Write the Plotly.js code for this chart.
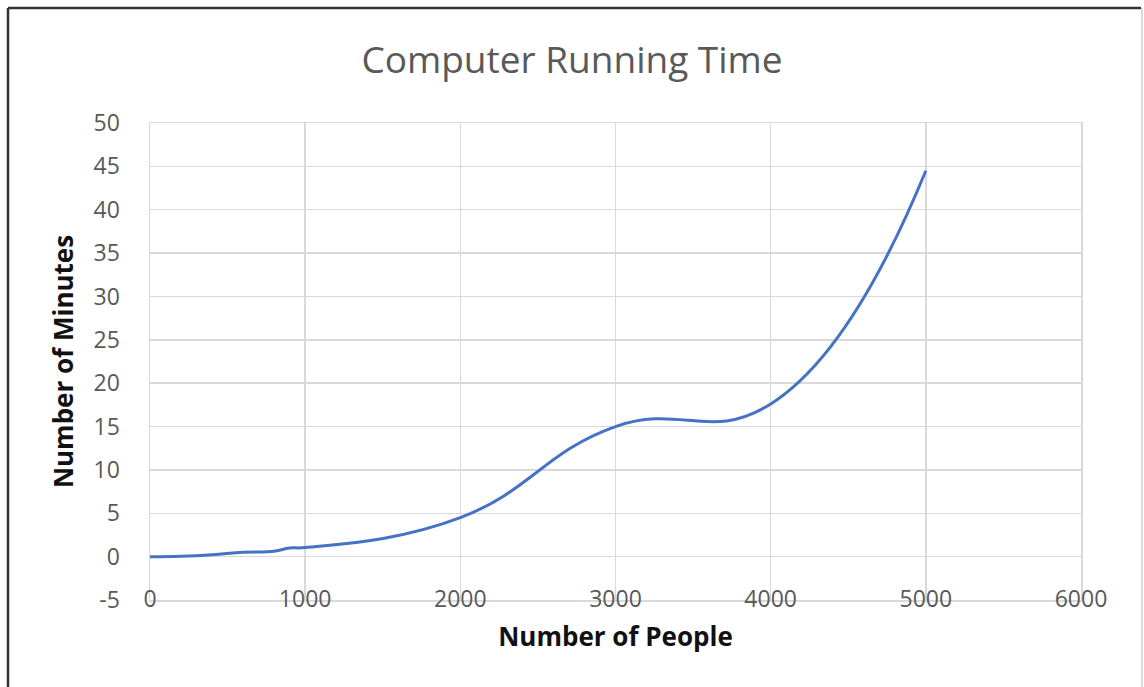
<!DOCTYPE html>
<html>
<head>
<meta charset="utf-8">
<script src="https://cdn.plot.ly/plotly-3.0.1.min.js"></script>
<style>
  html, body { margin: 0; padding: 0; background: #ffffff; }
  #chart { width: 1144px; height: 687px; }
</style>
</head>
<body>
<div id="chart"></div>
<script>
// Data
const people = [0, 200, 400, 600, 800, 900, 1000, 2000, 3000, 4000, 5000];
const minutes = [0, 0.05, 0.22, 0.5, 0.62, 1.0, 1.05, 4.5, 15, 17.6, 44.5];

const xTicks = [0, 1000, 2000, 3000, 4000, 5000, 6000];
const yTicks = [-5, 0, 5, 10, 15, 20, 25, 30, 35, 40, 45, 50];

const chartTitle = 'Computer Running Time';
const xTitle = 'Number of People';
const yTitle = 'Number of Minutes';

// Layout geometry (pixels)
const W = 1144, H = 687;
const mL = 150, mR = 63, mT = 123, mB = 87;
const pw = W - mL - mR, ph = H - mT - mB;
const px = v => (v - mL) / pw;
const py = v => (H - mB - v) / ph;

const trace = {
  x: people,
  y: minutes,
  type: 'scatter',
  mode: 'lines',
  line: { color: '#4472C4', width: 3, shape: 'spline', smoothing: 1.3 },
  hoverinfo: 'x+y',
  showlegend: false
};

const tickFont = { family: 'Open Sans, sans-serif', size: 23, color: '#595959' };

const layout = {
  width: W,
  height: H,
  paper_bgcolor: '#ffffff',
  plot_bgcolor: '#ffffff',
  margin: { l: mL, r: mR, t: mT, b: mB, pad: 0 },
  title: {
    text: chartTitle,
    font: { family: 'Open Sans, sans-serif', size: 37, color: '#595959' },
    x: 0.5, xref: 'container', xanchor: 'center',
    y: 1 - 60 / H, yref: 'container', yanchor: 'middle'
  },
  xaxis: {
    range: [0, 6000],
    tickvals: xTicks,
    ticktext: xTicks.map(String),
    showgrid: true,
    gridcolor: '#d9d9d9',
    gridwidth: 1.5,
    zeroline: false,
    showline: true,
    mirror: true,
    linecolor: '#d9d9d9',
    linewidth: 1.5,
    ticks: '',
    tickfont: tickFont,
    ticklabelstandoff: -22,
    automargin: false,
    title: {
      text: '<b>' + xTitle + '</b>',
      font: { family: 'Open Sans, sans-serif', size: 26, color: '#111111' },
      standoff: 14
    }
  },
  yaxis: {
    range: [-5, 50],
    tickvals: yTicks,
    ticktext: yTicks.map(String),
    showgrid: true,
    gridcolor: '#d9d9d9',
    gridwidth: 1.5,
    zeroline: false,
    showline: true,
    mirror: true,
    linecolor: '#d9d9d9',
    linewidth: 1.5,
    ticks: '',
    tickfont: tickFont,
    ticklabelstandoff: 24,
    automargin: false,
    title: {
      text: '<b>' + yTitle + '</b>',
      font: { family: 'Open Sans, sans-serif', size: 26, color: '#111111' },
      standoff: 12
    }
  },
  shapes: [
    // outer chart frame
    { type: 'line', xref: 'paper', yref: 'paper', x0: px(8), x1: px(1141), y0: py(8), y1: py(8),
      line: { color: '#333333', width: 2.5 } },
    { type: 'line', xref: 'paper', yref: 'paper', x0: px(8), x1: px(8), y0: py(8), y1: py(700),
      line: { color: '#333333', width: 2.5 } },
    { type: 'line', xref: 'paper', yref: 'paper', x0: px(1142), x1: px(1142), y0: py(8), y1: py(700),
      line: { color: '#cfcfcf', width: 1.5 } }
  ]
};

Plotly.newPlot('chart', [trace], layout, { displayModeBar: false, staticPlot: true });
</script>
</body>
</html>
